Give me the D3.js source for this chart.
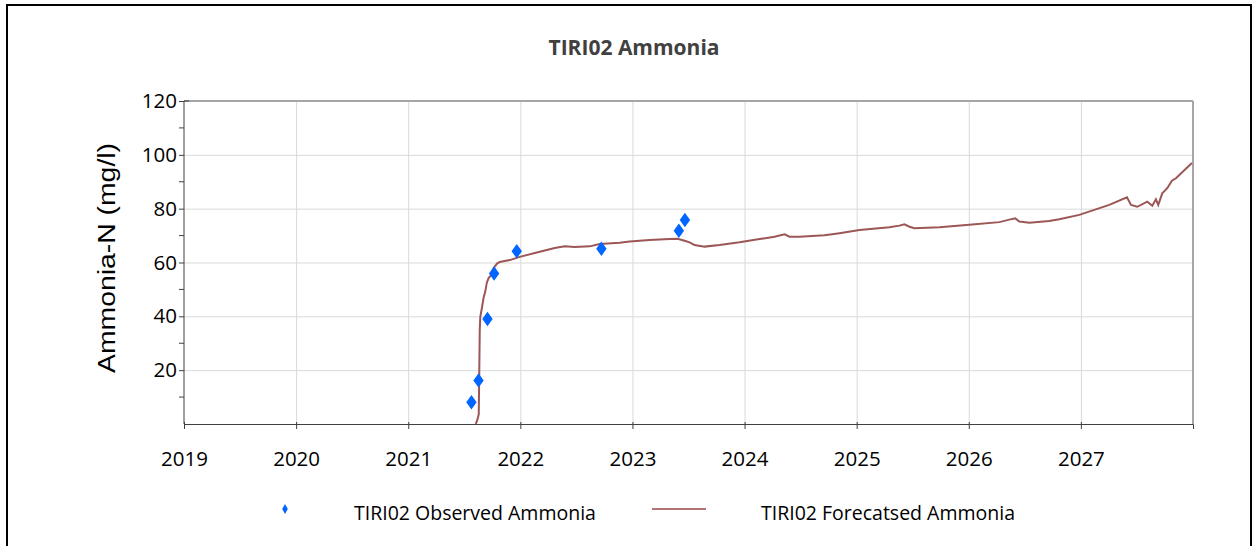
<!DOCTYPE html>
<html>
<head>
<meta charset="utf-8">
<script src="https://cdn.jsdelivr.net/npm/d3@7"></script>
<style>
  body { margin:0; background:#fff; }
  svg { display:block; font-family: "Open Sans", Lato, sans-serif; }
  .grid line { stroke:#d9d9d9; stroke-width:1; }
  .grid .domain { display:none; }
  .axis path, .axis line { stroke:#404040; }
  .axis text { fill:#000; font-size:20.5px; font-family: "Open Sans", sans-serif; }
</style>
</head>
<body>
<div id="canvas"></div>
<script>
// observed samples (decimal year, mg/l)
var obsYears  = [2021.564, 2021.627, 2021.707, 2021.766, 2021.968, 2022.723, 2023.414, 2023.468];
var obsValues = [8.1, 16.2, 39.0, 55.9, 64.2, 65.1, 71.8, 75.8];

// forecast curve (decimal year, mg/l)
var fcYears = [2021.602, 2021.615, 2021.629, 2021.634, 2021.638, 2021.643, 2021.656, 2021.674, 2021.687,
  2021.701, 2021.718, 2021.736, 2021.763, 2021.790, 2021.816, 2021.906, 2021.995, 2022.173, 2022.307,
  2022.396, 2022.485, 2022.619, 2022.708, 2022.886, 2022.975, 2023.153, 2023.332, 2023.403, 2023.465,
  2023.510, 2023.554, 2023.643, 2023.777, 2023.955, 2024.134, 2024.267, 2024.357, 2024.401, 2024.490,
  2024.713, 2024.847, 2025.025, 2025.292, 2025.381, 2025.426, 2025.471, 2025.515, 2025.738, 2026.005,
  2026.273, 2026.389, 2026.415, 2026.451, 2026.540, 2026.718, 2026.807, 2026.986, 2027.253, 2027.411,
  2027.447, 2027.503, 2027.592, 2027.637, 2027.669, 2027.690, 2027.726, 2027.770, 2027.812, 2027.848,
  2027.990];
var fcValues = [0, 1.3, 3.6, 20.2, 35.0, 39.9, 42.8, 47.3, 49.1,
  52.5, 54.3, 55.1, 58.0, 59.5, 60.2, 60.9, 62.1, 64.0, 65.4,
  66.0, 65.8, 66.0, 66.9, 67.3, 67.8, 68.4, 68.7, 68.8, 68.1,
  67.5, 66.5, 65.9, 66.5, 67.5, 68.7, 69.6, 70.5, 69.6, 69.6,
  70.1, 70.9, 72.1, 73.1, 73.7, 74.2, 73.3, 72.7, 73.1, 74.0,
  75.0, 76.2, 76.4, 75.2, 74.8, 75.4, 76.1, 77.7, 81.4, 84.2,
  81.4, 80.7, 82.6, 81.1, 83.5, 81.4, 85.7, 87.6, 90.4, 91.3,
  97.0];

var yearTicks = [2019, 2020, 2021, 2022, 2023, 2024, 2025, 2026, 2027];
var valueTicks = [20, 40, 60, 80, 100, 120];
var minorTicks = [10, 30, 50, 70, 90, 110];

var W = 1257, H = 546;
var m = {t:101, r:64, b:122, l:184};
var w = W - m.l - m.r, h = H - m.t - m.b;

var svg = d3.select('#canvas').append('svg')
  .attr('width', W).attr('height', H);

// outer frame
svg.append('rect')
  .attr('x', 7).attr('y', 5).attr('width', 1244).attr('height', 600)
  .attr('fill', 'none').attr('stroke', '#000').attr('stroke-width', 2);

svg.append('text')
  .attr('x', 634).attr('y', 55)
  .attr('text-anchor', 'middle')
  .style('font-size', '21px').style('font-weight', 'bold').style('fill', '#404040')
  .text('TIRI02 Ammonia');

var plot = svg.append('g').attr('transform', 'translate(' + m.l + ',' + m.t + ')');

var x = d3.scaleLinear().domain([2019, 2028]).range([0, w]);
var y = d3.scaleLinear().domain([0, 120]).range([h, 0]);

// gridlines
plot.append('g').attr('class', 'grid')
  .call(d3.axisBottom(x).tickValues(yearTicks.slice(1)).tickSize(h).tickFormat(''));
plot.append('g').attr('class', 'grid')
  .call(d3.axisLeft(y).tickValues(valueTicks).tickSize(-w).tickFormat(''));

// top / right frame of plot area
plot.append('line').attr('x1', 0).attr('x2', w).attr('y1', 0).attr('y2', 0)
  .attr('stroke', '#a6a6a6').attr('stroke-width', 2);
plot.append('line').attr('x1', w).attr('x2', w).attr('y1', 0).attr('y2', h)
  .attr('stroke', '#a6a6a6').attr('stroke-width', 2);

// axes
var axX = plot.append('g').attr('class', 'axis')
  .attr('transform', 'translate(0,' + h + ')')
  .call(d3.axisBottom(x).tickValues(yearTicks).tickFormat(d3.format('d')).tickSizeOuter(0).tickSize(5).tickPadding(22));
axX.selectAll('.tick line').attr('y1', -2);

var axY = plot.append('g').attr('class', 'axis')
  .call(d3.axisLeft(y).tickValues(valueTicks).tickSizeOuter(0).tickSize(5).tickPadding(2));
axY.select('.domain').attr('d', 'M0,' + h + 'V' + y(120));
axY.append('line').attr('x1', 0).attr('x2', 5).attr('y1', y(120)).attr('y2', y(120)).attr('stroke', '#404040');
axY.selectAll('.minor').data(minorTicks).enter().append('line')
  .attr('class', 'minor')
  .attr('x1', -5).attr('x2', 0)
  .attr('y1', function(d){ return y(d); })
  .attr('y2', function(d){ return y(d); })
  .attr('stroke', '#404040');

svg.append('text')
  .attr('transform', 'translate(115,258) rotate(-90)')
  .attr('text-anchor', 'middle')
  .attr('textLength', 230).attr('lengthAdjust', 'spacingAndGlyphs')
  .style('font-family', '"Liberation Sans", Arial, sans-serif')
  .style('font-size', '23px')
  .text('Ammonia-N (mg/l)');

// forecast line
var fc = fcYears.map(function(d, i){ return {yr:d, v:fcValues[i]}; });
var line = d3.line()
  .x(function(d){ return x(d.yr); })
  .y(function(d){ return y(d.v); });
plot.append('path').datum(fc)
  .attr('d', line)
  .attr('fill', 'none')
  .attr('stroke', '#9c5656')
  .attr('stroke-width', 2);

// observed points
var obs = obsYears.map(function(d, i){ return {yr:d, v:obsValues[i]}; });
var diamond = d3.symbol().type(d3.symbolDiamond).size(60);
plot.selectAll('.obs').data(obs).enter().append('path')
  .attr('class', 'obs')
  .attr('d', diamond)
  .attr('fill', '#0066ff')
  .attr('transform', function(d){ return 'translate(' + x(d.yr) + ',' + y(d.v) + ') scale(1.25,1)'; });

// legend
var lg = svg.append('g').style('font-size', '19.5px');
lg.append('path').attr('d', d3.symbol().type(d3.symbolDiamond).size(28))
  .attr('fill', '#0066ff').attr('transform', 'translate(285,509)');
lg.append('text').attr('x', 354).attr('y', 520).text('TIRI02 Observed Ammonia');
lg.append('line').attr('x1', 652).attr('x2', 706).attr('y1', 509).attr('y2', 509)
  .attr('stroke', '#b07474').attr('stroke-width', 2);
lg.append('text').attr('x', 761).attr('y', 520).text('TIRI02 Forecatsed Ammonia');
</script>
</body>
</html>
